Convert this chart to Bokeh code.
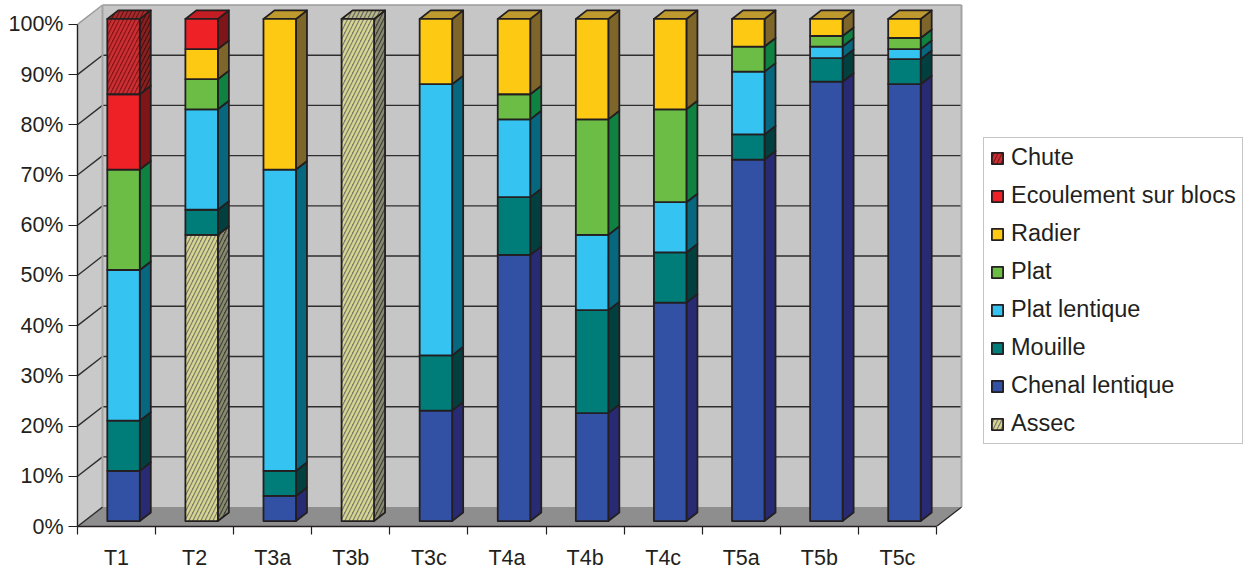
from bokeh.plotting import figure
from bokeh.models import Range1d, FixedTicker, Legend, LegendItem
from bokeh.embed import file_html
from bokeh.resources import INLINE

# ---- data (percent of reach length per habitat type) ----
categories = ["T1", "T2", "T3a", "T3b", "T3c", "T4a", "T4b", "T4c", "T5a", "T5b", "T5c"]

# stacked from bottom to top
assec = [0, 57, 0, 100, 0, 0, 0, 0, 0, 0, 0]
chenal_lentique = [10, 0, 5, 0, 22, 53, 21.5, 43.5, 72, 87.5, 87]
mouille = [10, 5, 5, 0, 11, 11.5, 20.5, 10, 5, 4.7, 5]
plat_lentique = [30, 20, 60, 0, 54, 15.5, 15, 10, 12.5, 2.3, 2]
plat = [20, 6, 0, 0, 0, 5, 23, 18.5, 5, 2.1, 2.2]
radier = [0, 6, 30, 0, 13, 15, 20, 18, 5.5, 3.4, 3.8]
ecoulement_sur_blocs = [15, 6, 0, 0, 0, 0, 0, 0, 0, 0, 0]
chute = [15, 0, 0, 0, 0, 0, 0, 0, 0, 0, 0]

series = [
    ("Assec", assec),
    ("Chenal lentique", chenal_lentique),
    ("Mouille", mouille),
    ("Plat lentique", plat_lentique),
    ("Plat", plat),
    ("Radier", radier),
    ("Ecoulement sur blocs", ecoulement_sur_blocs),
    ("Chute", chute),
]

y_ticks = [0, 10, 20, 30, 40, 50, 60, 70, 80, 90, 100]
y_tick_labels = ["0%", "10%", "20%", "30%", "40%", "50%", "60%", "70%", "80%", "90%", "100%"]

# ---- styling: (front, side, top) fills and optional hatch colours ----
styles = {
    "Chute": dict(front="#8A1417", side="#4E0E10", top="#6C1416",
                  hatch=("#C92F33", "#88201F", "#A42A2C")),
    "Ecoulement sur blocs": dict(front="#EE2127", side="#7E1518", top="#C21D22"),
    "Radier": dict(front="#FDC913", side="#7E652A", top="#BE9A2E"),
    "Plat": dict(front="#6CBD45", side="#0F8140", top="#4E9E36"),
    "Plat lentique": dict(front="#35C4F2", side="#06677F", top="#1E9ECB"),
    "Mouille": dict(front="#007D79", side="#02403F", top="#005E5A"),
    "Chenal lentique": dict(front="#3351A4", side="#282A74", top="#2A3C8A"),
    "Assec": dict(front="#7C7C6E", side="#42423A", top="#66665C",
                  hatch=("#D6D690", "#8A8A70", "#B8B888")),
}

INK = "#231F20"
FONT = "Liberation Sans"

# ---- pseudo-3D projection ----
PX_X = 78.09          # pixels per category slot
PX_Y = 5.05           # pixels per percent
DEPTH_X = 25.0 / PX_X  # wall depth offset in data units
DEPTH_Y = 19.5 / PX_Y
D0, D1 = 0.28, 0.72    # bar depth (front, back) as fraction of wall depth
BAR_W = 0.416
N = len(categories)


def proj(x, y, d):
    return x + d * DEPTH_X, y + d * DEPTH_Y


def quad(pts):
    xs, ys = zip(*[proj(*p) for p in pts])
    return list(xs), list(ys)


FRAME_W = 1257 - 77
FRAME_H = 529

p = figure(width=1257, height=572, output_backend="svg", toolbar_location=None,
           x_range=Range1d(0, FRAME_W / PX_X), y_range=Range1d(0, FRAME_H / PX_Y),
           min_border_left=77, min_border_right=0, min_border_top=0, min_border_bottom=43)
p.outline_line_color = None
p.background_fill_color = "white"
p.border_fill_color = "white"
p.xgrid.visible = False
p.ygrid.visible = False

# ---- walls and floor ----
top = y_ticks[-1]
left_wall = quad([(0, 0, 0), (0, 0, 1), (0, top, 1), (0, top, 0)])
back_wall = quad([(0, 0, 1), (N, 0, 1), (N, top, 1), (0, top, 1)])
floor = quad([(0, 0, 0), (N, 0, 0), (N, 0, 1), (0, 0, 1)])
p.patch(*left_wall, fill_color="#C9C9C9", line_color=None)
p.patch(*back_wall, fill_color="#C6C6C6", line_color=None)
p.patch(*floor, fill_color="#8F8E8E", line_color=None)

# gridlines on the back wall and the left wall
for t in y_ticks:
    col = "#9A9A9A" if t == top else "#2E2E2E"
    if 0 < t:
        bx, by = quad([(0, t, 1), (N, t, 1)])
        p.line(bx, by, line_color=col, line_width=1.4)
    lx, ly = quad([(0, t, 0), (0, t, 1)])
    p.line(lx, ly, line_color=col, line_width=1.4)

# wall edges
cx, cy = quad([(0, 0, 1), (0, top, 1)])
p.line(cx, cy, line_color="#A3A3A3", line_width=2)
rx, ry = quad([(N, 0, 1), (N, top, 1)])
p.line(rx, ry, line_color="#A3A3A3", line_width=2)
fx, fy = quad([(N, 0, 0), (N, 0, 1)])
p.line(fx, fy, line_color=INK, line_width=1.2)

# ---- stacked 3D columns ----
totals = [0.0] * N
topmost = {}
for name, vals in series:
    for i, v in enumerate(vals):
        if v > 0:
            topmost[i] = name

front_renderers = {}
for name, vals in series:
    st = styles[name]
    fxs, fys, sxs, sys_, txs, tys = [], [], [], [], [], []
    for i, v in enumerate(vals):
        if v <= 0:
            continue
        y0 = totals[i]
        y1 = y0 + v
        totals[i] = y1
        x0 = i + 0.5 - BAR_W / 2
        x1 = i + 0.5 + BAR_W / 2
        a, b = quad([(x0, y0, D0), (x1, y0, D0), (x1, y1, D0), (x0, y1, D0)])
        fxs.append(a); fys.append(b)
        a, b = quad([(x1, y0, D0), (x1, y0, D1), (x1, y1, D1), (x1, y1, D0)])
        sxs.append(a); sys_.append(b)
        if topmost.get(i) == name:
            a, b = quad([(x0, y1, D0), (x1, y1, D0), (x1, y1, D1), (x0, y1, D1)])
            txs.append(a); tys.append(b)

    hatch = st.get("hatch")
    common = dict(line_color=INK, line_width=1.8, line_join="round")

    def hatch_kw(k):
        if hatch is None:
            return {}
        return dict(hatch_pattern="/", hatch_color=hatch[k], hatch_weight=2.4, hatch_scale=8)

    if sxs:
        p.patches(sxs, sys_, fill_color=st["side"], **common, **hatch_kw(1))
    if txs:
        p.patches(txs, tys, fill_color=st["top"], **common, **hatch_kw(2))
    front_renderers[name] = p.patches(fxs, fys, fill_color=st["front"], **common, **hatch_kw(0))

# ---- axes ----
xa = p.xaxis[0]
xa.ticker = FixedTicker(ticks=[i + 0.5 for i in range(N)], minor_ticks=list(range(N + 1)))
xa.major_label_overrides = {i + 0.5: c for i, c in enumerate(categories)}
xa.bounds = (0, N)
xa.axis_line_color = INK
xa.axis_line_width = 1.4
xa.major_tick_line_color = None
xa.major_tick_out = 0
xa.major_tick_in = 0
xa.minor_tick_line_color = INK
xa.minor_tick_line_width = 1.2
xa.minor_tick_out = 8
xa.minor_tick_in = 0
xa.major_label_standoff = 11
xa.major_label_text_font = FONT
xa.major_label_text_font_size = "21.5px"
xa.major_label_text_color = INK

ya = p.yaxis[0]
ya.ticker = FixedTicker(ticks=y_ticks, minor_ticks=[])
ya.major_label_overrides = {t: lab for t, lab in zip(y_ticks, y_tick_labels)}
ya.bounds = (0, top)
ya.axis_line_color = INK
ya.axis_line_width = 1.4
ya.major_tick_line_color = INK
ya.major_tick_line_width = 1.2
ya.major_tick_out = 9
ya.major_tick_in = 0
ya.minor_tick_line_color = None
ya.major_label_standoff = 5
ya.major_label_text_font = FONT
ya.major_label_text_font_size = "21.5px"
ya.major_label_text_color = INK

# ---- legend ----
legend_order = ["Chute", "Ecoulement sur blocs", "Radier", "Plat", "Plat lentique",
                "Mouille", "Chenal lentique", "Assec"]
legend = Legend(
    items=[LegendItem(label=n, renderers=[front_renderers[n]]) for n in legend_order],
    location=(906, 82),
    orientation="vertical",
    glyph_width=14, glyph_height=14,
    label_standoff=7,
    label_text_font=FONT,
    label_text_font_size="23.5px",
    label_text_color=INK,
    label_height=27,
    spacing=11,
    padding=6,
    margin=0,
    border_line_color="#8C8C8C",
    border_line_width=1.2,
    background_fill_color="white",
    background_fill_alpha=1.0,
)
p.add_layout(legend)

open("out.html", "w").write(file_html(p, INLINE))
